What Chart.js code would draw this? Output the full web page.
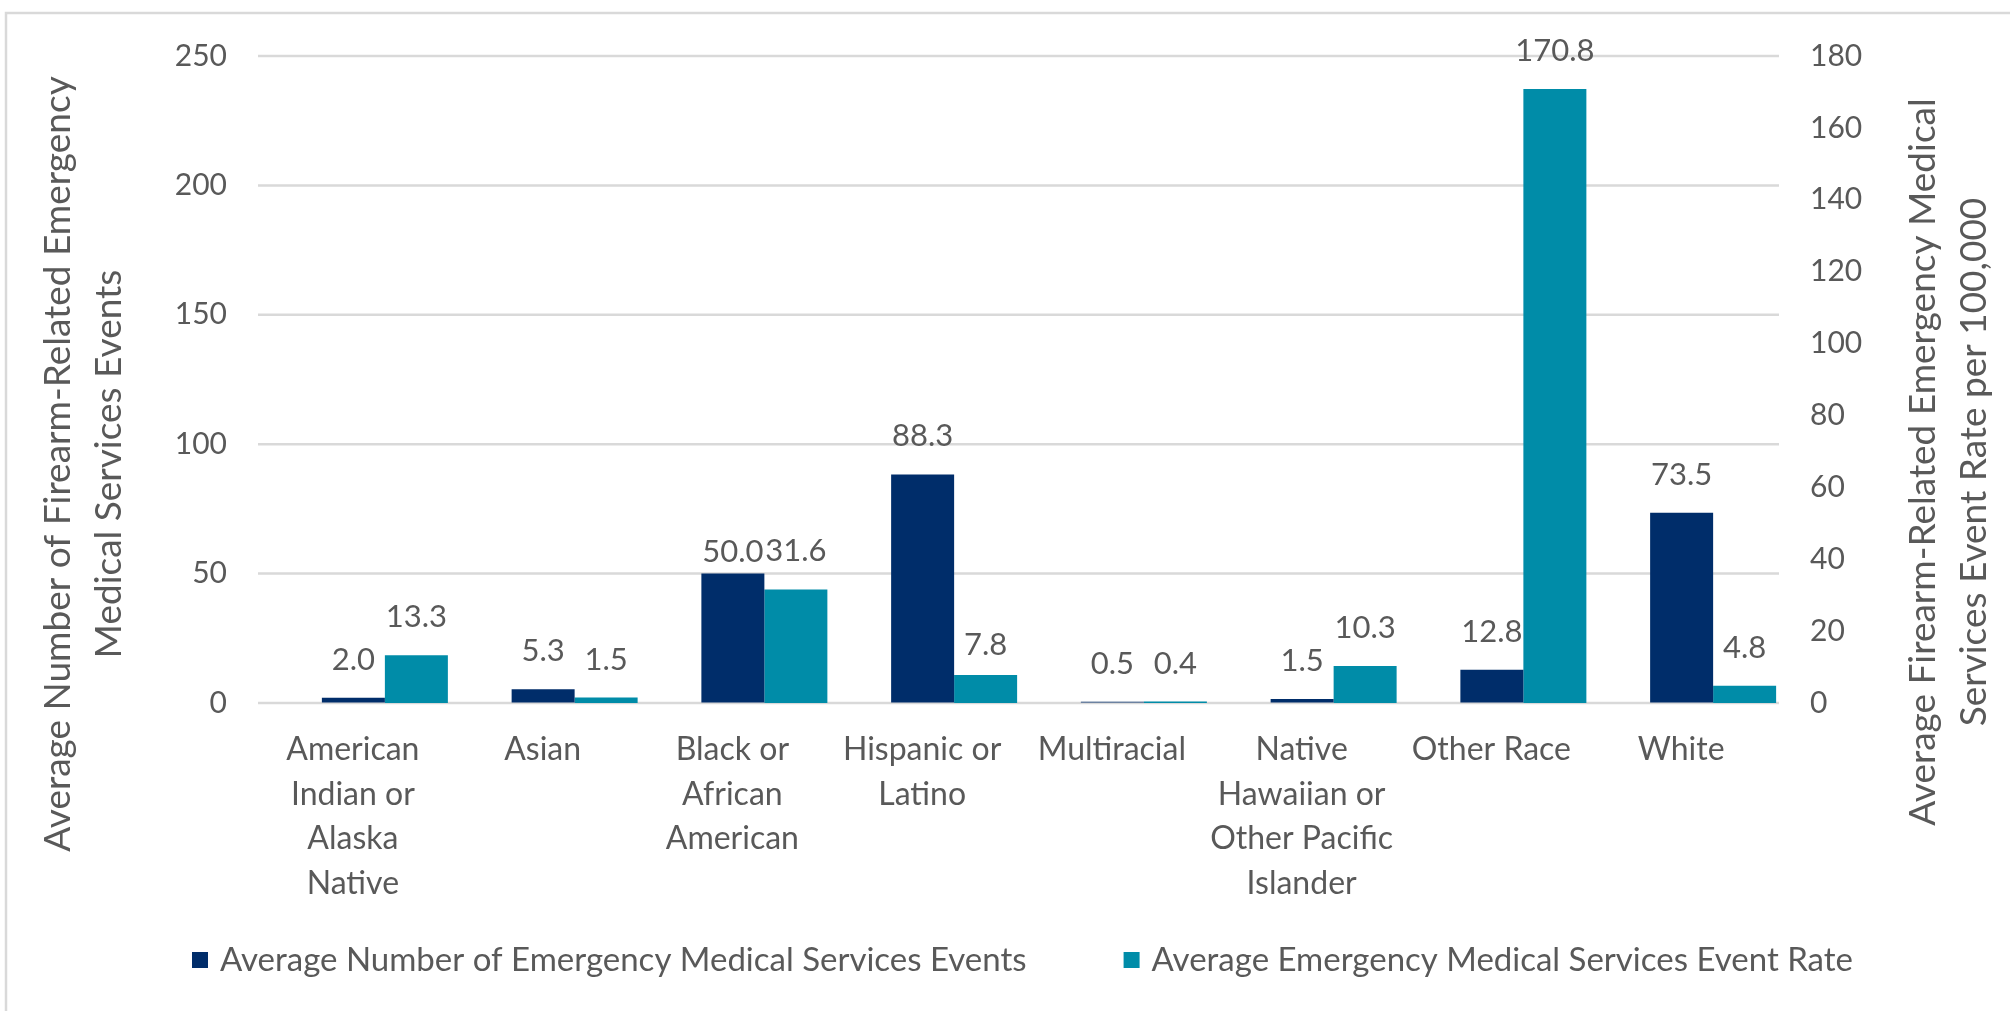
<!DOCTYPE html>
<html>
<head>
<meta charset="utf-8">
<script src="https://cdn.jsdelivr.net/npm/chart.js@4.4.1/dist/chart.umd.min.js"></script>
<style>
html,body{margin:0;padding:0;background:#ffffff;}
canvas{display:block;}
</style>
</head>
<body>
<canvas id="c" width="2010" height="1011"></canvas>
<script>
// ---- data ----
const categories = [
  ["American","Indian or","Alaska","Native"],
  ["Asian"],
  ["Black or","African","American"],
  ["Hispanic or","Latino"],
  ["Multiracial"],
  ["Native","Hawaiian or","Other Pacific","Islander"],
  ["Other Race"],
  ["White"]
];
const avgEvents = [2.0, 5.3, 50.0, 88.3, 0.5, 1.5, 12.8, 73.5];
const avgRate = [13.3, 1.5, 31.6, 7.8, 0.4, 10.3, 170.8, 4.8];
const seriesNames = [
  "Average Number of Emergency Medical Services Events",
  "Average Emergency Medical Services Event Rate"
];
const leftAxisTicks = [0, 50, 100, 150, 200, 250];
const rightAxisTicks = [0, 20, 40, 60, 80, 100, 120, 140, 160, 180];
const leftTitle = ["Average Number of Firearm-Related Emergency", "Medical Services Events"];
const rightTitle = ["Average Firearm-Related Emergency Medical", "Services Event Rate per 100,000"];

// ---- styles ----
const NAVY = '#002d6a';
const TEAL = '#008ca8';
const TXT = '#595959';
const GRID = '#d9d9d9';
const FONT = "Lato, 'Open Sans', sans-serif";
const LEG = 33;
const labelLift = 38;
const navyNudge = [0, 0, 16, 0, 0, 0, 0, 0];
const tealNudge = [0, 0, 0, 8, 0, 0, 0, 0];

Chart.defaults.font.family = FONT;
Chart.defaults.color = TXT;

const gridPlugin = {
  id: 'gridLines',
  beforeDatasetsDraw(chart) {
    const y = chart.scales.y;
    const {left, right} = chart.chartArea;
    const ctx = chart.ctx;
    ctx.save();
    ctx.strokeStyle = GRID;
    ctx.lineWidth = 2.5;
    y.ticks.forEach(t => {
      const py = y.getPixelForValue(t.value);
      ctx.beginPath();
      ctx.moveTo(left - 32, py);
      ctx.lineTo(right - 29, py);
      ctx.stroke();
    });
    ctx.restore();
  }
};

const labelPlugin = {
  id: 'valueLabels',
  afterDatasetsDraw(chart) {
    const ctx = chart.ctx;
    ctx.save();
    ctx.font = "31px " + FONT;
    ctx.fillStyle = TXT;
    ctx.textAlign = 'center';
    ctx.textBaseline = 'middle';
    chart.data.datasets.forEach((ds, i) => {
      const meta = chart.getDatasetMeta(i);
      const nudge = i === 0 ? navyNudge : tealNudge;
      meta.data.forEach((bar, j) => {
        ctx.fillText(ds.data[j].toFixed(1), bar.x, bar.y - labelLift + nudge[j]);
      });
    });
    ctx.restore();
  }
};

const legendPlugin = {
  id: 'bottomLegend',
  afterDraw(chart) {
    const ctx = chart.ctx;
    ctx.save();
    ctx.font = LEG + "px " + FONT;
    ctx.textAlign = 'left';
    ctx.textBaseline = 'middle';
    let x = 192;
    const y = 960;
    chart.data.datasets.forEach(ds => {
      ctx.fillStyle = ds.backgroundColor;
      ctx.fillRect(x, y - 8, 16, 16);
      ctx.fillStyle = TXT;
      ctx.fillText(ds.label, x + 28, y);
      x += 28 + ctx.measureText(ds.label).width + 97;
    });
    ctx.restore();
  }
};

const decorPlugin = {
  id: 'decor',
  beforeDraw(chart) {
    const ctx = chart.ctx;
    ctx.save();
    ctx.fillStyle = '#ffffff';
    ctx.fillRect(0, 0, chart.width, chart.height);
    ctx.strokeStyle = GRID;
    ctx.lineWidth = 2.5;
    ctx.beginPath();
    ctx.moveTo(6, chart.height);
    ctx.lineTo(6, 13);
    ctx.lineTo(chart.width, 13);
    ctx.stroke();
    ctx.restore();
  },
  afterDraw(chart) {
    const ctx = chart.ctx;
    ctx.save();
    ctx.font = "37px " + FONT;
    ctx.fillStyle = TXT;
    ctx.textAlign = 'center';
    ctx.textBaseline = 'middle';
    const drawRot = (lines, xs, cy) => {
      lines.forEach((line, k) => {
        ctx.save();
        ctx.translate(xs[k], cy);
        ctx.rotate(-Math.PI / 2);
        ctx.fillText(line, 0, 0);
        ctx.restore();
      });
    };
    drawRot(leftTitle, [58, 109], 464);
    drawRot(rightTitle, [1923, 1974], 462);
    ctx.restore();
  }
};

const hiddenTick = {display: true, drawOnChartArea: false, drawTicks: true, tickLength: 60, tickColor: 'rgba(0,0,0,0)'};

new Chart(document.getElementById('c'), {
  type: 'bar',
  data: {
    labels: categories,
    datasets: [
      {label: seriesNames[0], data: avgEvents, backgroundColor: NAVY, yAxisID: 'y'},
      {label: seriesNames[1], data: avgRate, backgroundColor: TEAL, yAxisID: 'y1'}
    ]
  },
  options: {
    responsive: false,
    animation: false,
    devicePixelRatio: 1,
    categoryPercentage: 0.664,
    barPercentage: 1.0,
    layout: {padding: {top: 56, left: 0, right: 0, bottom: 0}},
    plugins: {
      tooltip: {enabled: false},
      legend: {display: false}
    },
    scales: {
      x: {
        grid: {display: false, drawTicks: false},
        border: {display: false},
        ticks: {
          autoSkip: false, maxRotation: 0, minRotation: 0,
          padding: 24, labelOffset: -32,
          color: TXT, font: {size: 32, lineHeight: 1.4}
        },
        afterFit(s) { s.height = 308; }
      },
      y: {
        position: 'left',
        min: leftAxisTicks[0], max: leftAxisTicks[leftAxisTicks.length - 1],
        afterBuildTicks(s) { s.ticks = leftAxisTicks.map(v => ({value: v})); },
        grid: hiddenTick,
        border: {display: false},
        ticks: {padding: 3, color: TXT, font: {size: 30}},
        afterFit(s) { s.width = 290; }
      },
      y1: {
        position: 'right',
        min: rightAxisTicks[0], max: rightAxisTicks[rightAxisTicks.length - 1],
        afterBuildTicks(s) { s.ticks = rightAxisTicks.map(v => ({value: v})); },
        grid: {display: false, drawTicks: false},
        border: {display: false},
        ticks: {padding: 2, color: TXT, font: {size: 30}},
        afterFit(s) { s.width = 202; }
      }
    }
  },
  plugins: [decorPlugin, gridPlugin, labelPlugin, legendPlugin]
});
</script>
</body>
</html>
